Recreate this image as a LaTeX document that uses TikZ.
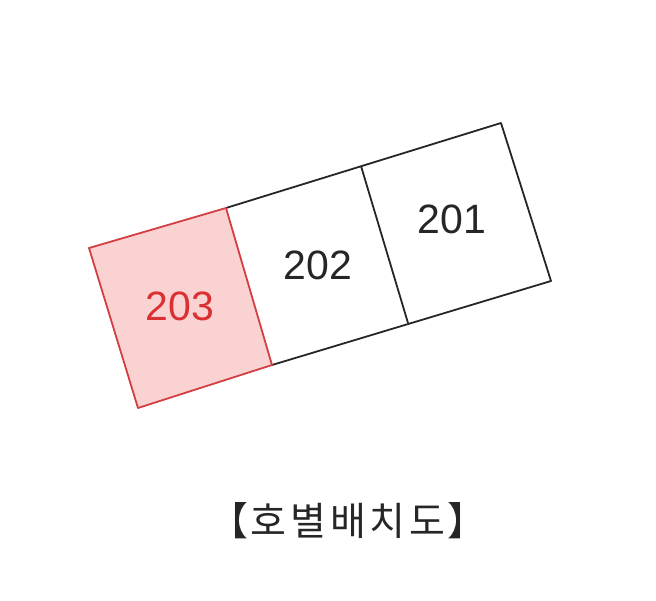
\documentclass[tikz,border=0pt]{standalone}
\usepackage{fontspec}
\setmainfont{Liberation Sans}
\newfontfamily\krfont{Noto Sans CJK KR}
\definecolor{soldline}{RGB}{210,62,66}
\definecolor{soldfill}{RGB}{250,210,210}
\definecolor{soldtext}{RGB}{218,48,52}

\begin{document}
\begin{tikzpicture}[x=1pt,y=-1pt,
  room/.style={draw=black!85,line width=1.8pt,line join=round},
  sold/.style={draw=soldline,fill=soldfill,line width=1.8pt,line join=round},
  num/.style={font=\fontsize{41}{41}\selectfont,text=black!85},
  caption/.style={font=\krfont\fontsize{39}{39}\selectfont,text=black!85}]
  \useasboundingbox (0,0) rectangle (656,600);
  % corners of the strip, top row and bottom row
  \coordinate (t0) at (89,248);
  \coordinate (t1) at (226,208);
  \coordinate (t2) at (361,166);
  \coordinate (t3) at (501,123);
  \coordinate (b0) at (138,408);
  \coordinate (b1) at (272,365);
  \coordinate (b2) at (408,323);
  \coordinate (b3) at (551,281);
  \draw[room] (t1) -- (t3) -- (b3) -- (b1);
  \draw[room] (t2) -- (b2);
  \draw[sold] (t0) -- (t1) -- (b1) -- (b0) -- cycle;
  \node[num,text=soldtext] (r203) at (180,306) {203};
  \node[num] (r202) at (318,265) {202};
  \node[num] (r201) at (452,219) {201};
  \node[caption] (plan) at (348,521) {【\kern2pt 호\kern4pt 별\kern4pt 배\kern4pt 치\kern4pt 도\kern2pt 】};
\end{tikzpicture}
\end{document}
